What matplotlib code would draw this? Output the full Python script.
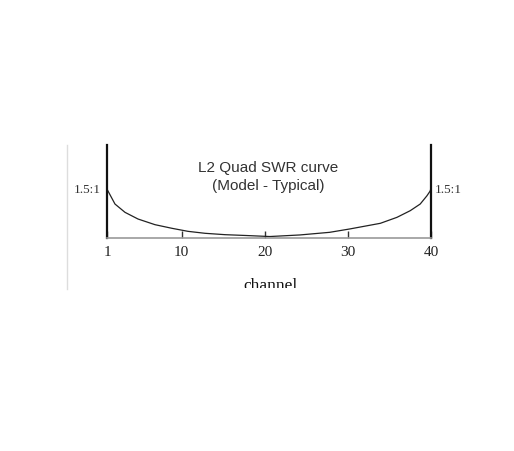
import matplotlib
matplotlib.use("Agg")
import matplotlib.pyplot as plt
from matplotlib.transforms import Bbox

# Data (channel vs SWR)
channels = [1.0, 1.1, 1.96, 3.17, 4.73, 6.78, 8.82, 10.75, 12.8, 15.2, 17.6, 20.6,
            24.2, 27.8, 30.2, 33.9, 35.9, 37.5, 38.7, 39.5, 39.9, 40.0]
swr = [1.50, 1.483, 1.347, 1.262, 1.194, 1.136, 1.099, 1.068, 1.048, 1.034, 1.026, 1.015,
       1.031, 1.058, 1.092, 1.15, 1.211, 1.279, 1.347, 1.43, 1.48, 1.51]
tick_channels = [1, 10, 20, 30, 40]
tick_labels = ["1", "10", "20", "30", "40"]
title_lines = ["L2 Quad SWR curve", "(Model - Typical)"]
swr_label = "1.5:1"
xlabel = "channel"

W, H = 514, 452
fig = plt.figure(figsize=(W / 100, H / 100), dpi=100)
fig.patch.set_facecolor("white")

left_px, right_px, top_px, base_px = 107, 431, 146, 239
ax = fig.add_axes([left_px / W, 1 - base_px / H, (right_px - left_px) / W, (base_px - top_px) / H])
ax.set_xlim(1, 40)
ax.set_ylim(1.0, 1.95)
ax.plot(channels, swr, color="#222222", lw=0.9, clip_on=False, solid_joinstyle="round")

ax.spines["top"].set_visible(False)
ax.spines["left"].set_linewidth(1.6)
ax.spines["right"].set_linewidth(1.6)
ax.spines["left"].set_color("#111111")
ax.spines["right"].set_color("#111111")
ax.spines["bottom"].set_color("#9a9a9a")
ax.spines["bottom"].set_linewidth(1.2)

ax.set_yticks([])
ax.set_xticks(tick_channels)
ax.set_xticklabels(tick_labels, family="Liberation Serif", fontsize=11, color="#222222")
ax.tick_params(axis="x", direction="in", length=5, width=1.0, color="#333333", pad=5)

# 1.5:1 labels at both sides
ax.text(-0.02, 0.5 / 0.95, swr_label, transform=ax.transAxes, ha="right", va="center",
        family="Liberation Serif", fontsize=9.5, color="#333333")
ax.text(1.012, 0.5 / 0.95, swr_label, transform=ax.transAxes, ha="left", va="center",
        family="Liberation Serif", fontsize=9.5, color="#333333")

# title inside the plot
fig.text(268 / W, 1 - 168 / H, title_lines[0], ha="center", va="center",
         family="Liberation Sans", fontsize=11, color="#333333")
fig.text(268 / W, 1 - 186 / H, title_lines[1], ha="center", va="center",
         family="Liberation Sans", fontsize=11, color="#333333")

# x label (clipped at bottom as in the scan)
t = fig.text(270 / W, 1 - 290 / H, xlabel, ha="center", va="baseline",
             family="Liberation Serif", fontsize=12.5, color="#111111")
t.set_clip_box(Bbox.from_extents(0, H - 288.5, W, H))
t.set_clip_on(True)

# faint vertical line at left edge of the scan
fig.add_artist(plt.Line2D([67 / W, 67 / W], [1 - 146 / H, 1 - 290 / H],
                          transform=fig.transFigure, color="#dddddd", lw=1.0))

fig.savefig("out.png", dpi=100)
